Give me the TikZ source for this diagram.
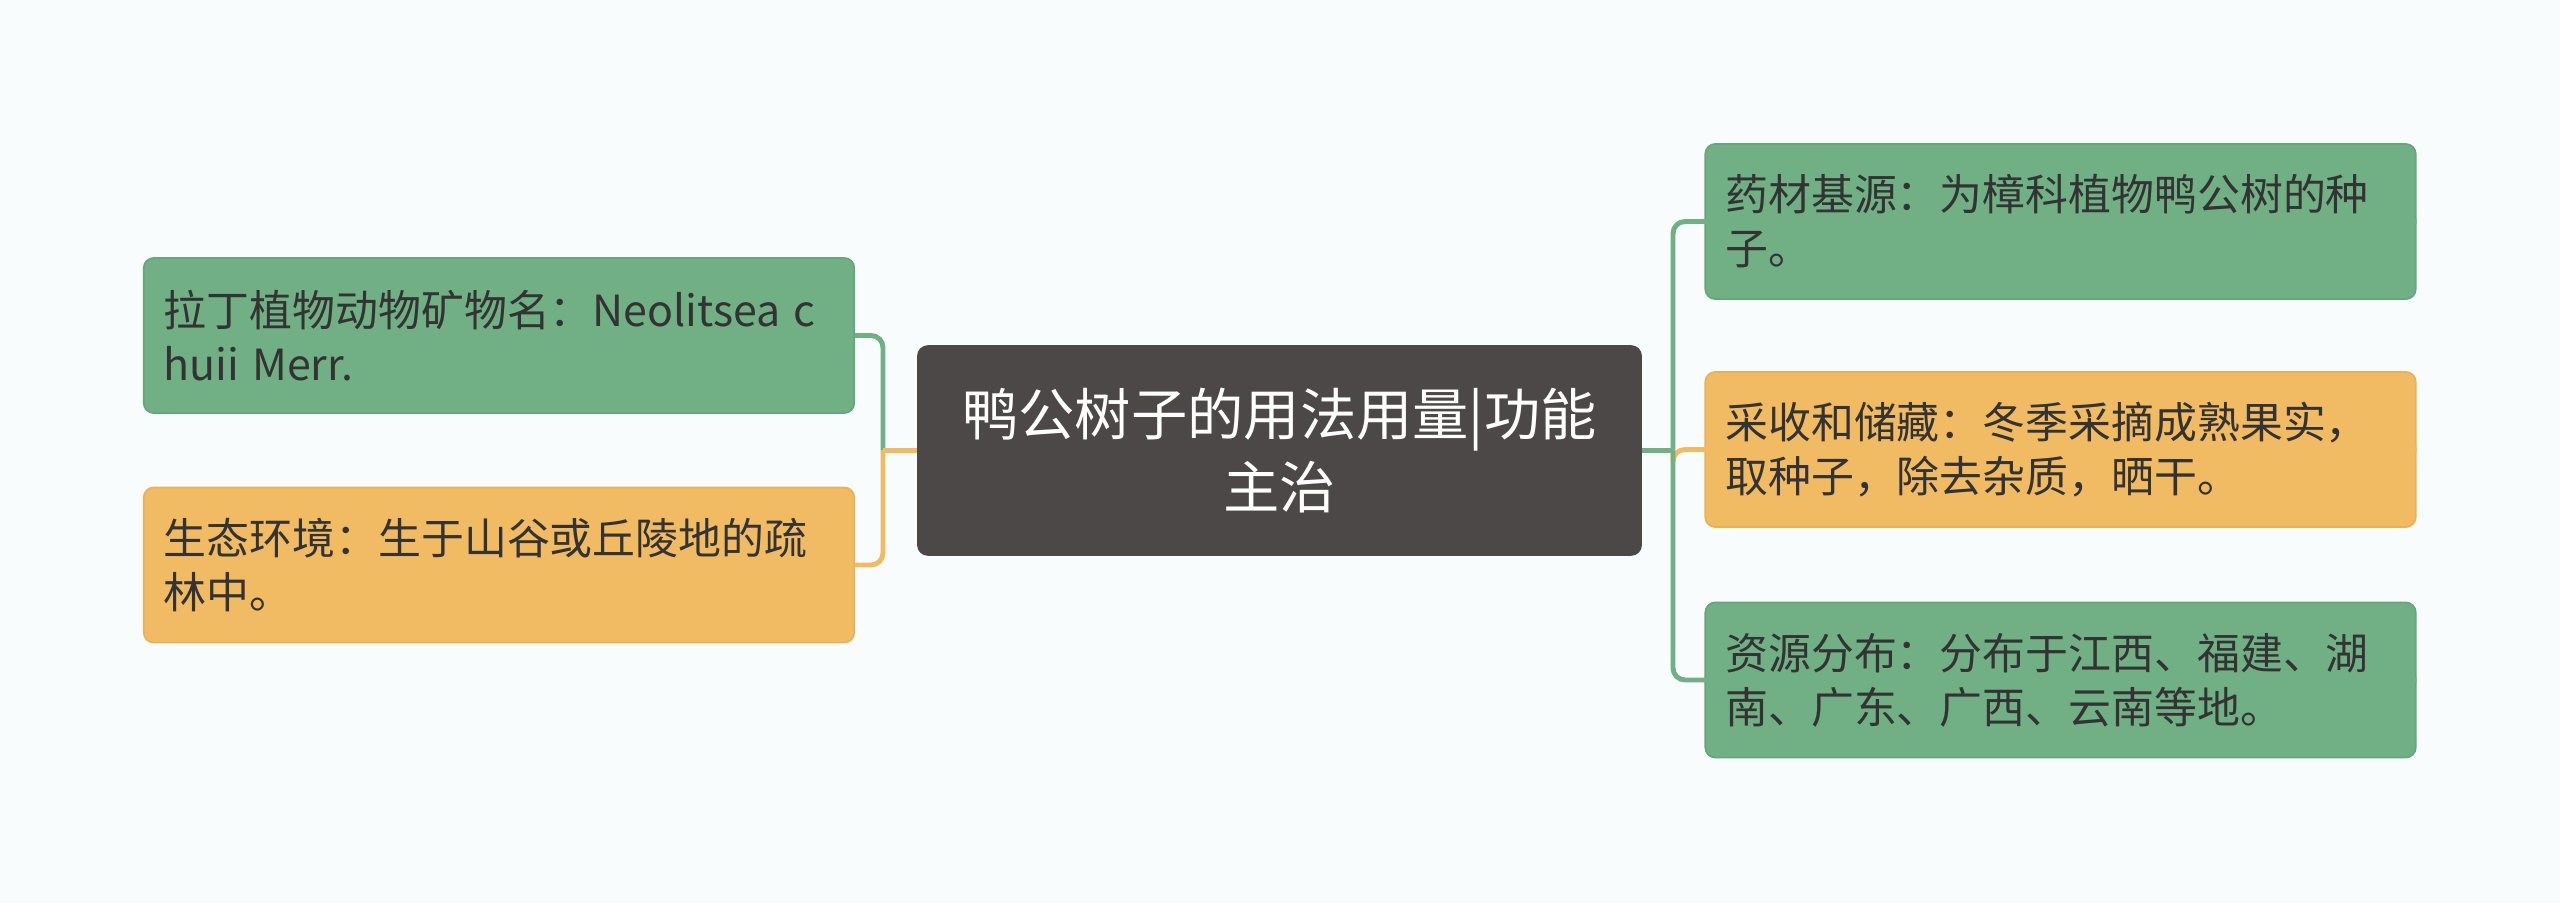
\documentclass[tikz,border=0pt]{standalone}
\usepackage{fontspec}
\setmainfont{Noto Sans CJK SC}
\definecolor{bgc}{HTML}{F8FCFC}
\definecolor{leaf}{HTML}{71B085}
\definecolor{leafd}{HTML}{68A57C}
\definecolor{sun}{HTML}{F1BB63}
\definecolor{sund}{HTML}{E8B15A}
\definecolor{rootc}{HTML}{4C4847}
\definecolor{ink}{HTML}{333333}
\begin{document}
\begin{tikzpicture}[x=0.01cm,y=-0.01cm,
    box/.style={rounded corners=0.1cm, text=ink, align=left,
      font=\fontsize{12.2pt}{15.4pt}\selectfont,
      text width=6.7cm, minimum height=1.55cm, inner xsep=0.2cm, inner ysep=0pt},
    leafbox/.style={box, fill=leaf, draw=leafd, line width=0.5pt},
    sunbox/.style={box, fill=sun, draw=sund, line width=0.5pt},
    rootbox/.style={rounded corners=0.1cm, fill=rootc, draw=rootc, text=white,
      align=center, font=\fontsize{16pt}{20.8pt}\selectfont,
      minimum width=7.23cm, minimum height=2.09cm},
    leafline/.style={draw=leaf, line width=1.4pt},
    sunline/.style={draw=sun, line width=1.4pt}]
  \fill[bgc] (0,0) rectangle (2560,903);
  \useasboundingbox (0,0) rectangle (2560,903);
  \draw
    (1279.5,450.5) node[rootbox] (root){鸭公树子的用法用量|功能\\主治}
    (499,335.5) node[leafbox] (l1){拉丁植物动物矿物名：Neolitsea\hspace{0.3em}c\\huii\hspace{0.3em}Merr.}
    (499,565) node[sunbox] (l2){生态环境：生于山谷或丘陵地的疏\\林中。}
    (2060.5,221.5) node[leafbox] (r1){药材基源：为樟科植物鸭公树的种\\子。}
    (2060.5,449.5) node[sunbox] (r2){采收和储藏：冬季采摘成熟果实，\\取种子，除去杂质，晒干。}
    (2060.5,680) node[leafbox] (r3){资源分布：分布于江西、福建、湖\\南、广东、广西、云南等地。};
  \coordinate (lj) at (883,450.5);
  \coordinate (rj) at (1673,450.5);
  \begin{scope}[rounded corners=0.12cm]
    \draw[leafline] (lj) |- (l1.east);
    \draw[leafline, sharp corners] (root.west) -- (lj);
    \draw[sunline] (lj) |- (l2.east);
    \draw[sunline, sharp corners] (root.west) -- (lj);
    \draw[sunline] (rj) |- (r2.east);
    \draw[leafline] (rj) |- (r1.east);
    \draw[leafline] (rj) |- (r3.east);
    \draw[leafline, sharp corners] (root.east) -- (rj);
  \end{scope}
\end{tikzpicture}
\end{document}
